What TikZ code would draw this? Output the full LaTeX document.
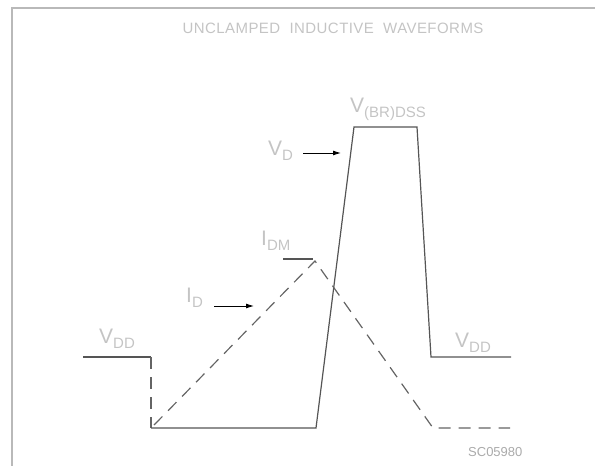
\documentclass[tikz,border=0pt]{standalone}
\usepackage{fontspec}
\setmainfont{Liberation Sans}
\newfontfamily\titlefont[LetterSpace=3]{Liberation Sans}
\usetikzlibrary{arrows.meta}
\definecolor{txtgray}{RGB}{196,196,196}
\definecolor{codegray}{RGB}{170,170,170}
\definecolor{wavegray}{RGB}{85,85,85}
\definecolor{dashgray}{RGB}{100,100,100}
\definecolor{framegray}{RGB}{185,185,185}
\newcommand{\mainlbl}[2]{{\fontsize{21}{21}\selectfont #1}\raisebox{-5pt}{\fontsize{15}{15}\selectfont #2}}
\tikzset{
  lbl/.style={text=txtgray, inner sep=0pt, anchor=base west},
  wave/.style={draw=wavegray, line width=1.2pt, line join=miter},
  dashwave/.style={draw=dashgray, line width=1.2pt, dash pattern=on 12pt off 8pt},
  pointer/.style={draw=black, line width=0.9pt, -{Latex[length=8pt,width=5pt]}},
  framel/.style={draw=framegray, line width=2pt}
}
\begin{document}
\begin{tikzpicture}[x=1pt,y=-1pt]
\useasboundingbox (0,0) rectangle (595,466);
% frame
\coordinate (fbl) at (12,466);
\coordinate (ftl) at (12,8.3);
\coordinate (ftr) at (595,8.3);
\draw[framel] (fbl) -- (ftl) -- (ftr);
% title
\node[text=txtgray, inner sep=0pt, font=\titlefont\fontsize{15}{15}\selectfont] (title) at (333,28.5) {UNCLAMPED\ \ INDUCTIVE\ \ WAVEFORMS};
% waveform corners
\coordinate (vddL) at (83,357);
\coordinate (stepTop) at (151,357);
\coordinate (stepBot) at (151,428);
\coordinate (riseBot) at (316,428);
\coordinate (plTL) at (354,127);
\coordinate (plTR) at (417,127);
\coordinate (fallBot) at (431,357);
\coordinate (vddR) at (511,357);
\coordinate (idStart) at (154,425);
\coordinate (idPeak) at (315,261);
\coordinate (idZero) at (433,428);
\coordinate (idEnd) at (510,428);
\coordinate (idmA) at (283,259);
\coordinate (idmB) at (313,259);
% V_D waveform
\draw[wave] (vddL) -- (stepTop);
\draw[dashwave] (stepTop) -- (stepBot);
\draw[wave] (stepBot) -- (riseBot) -- (plTL) -- (plTR) -- (fallBot) -- (vddR);
% I_D waveform
\draw[dashwave] (idStart) -- (idPeak) -- (idZero) -- (idEnd);
\draw[wave] (idmA) -- (idmB);
% labels
\node[lbl] (vddLeft) at (99,343) {\mainlbl{V}{DD}};
\node[lbl] (vddRight) at (455,347) {\mainlbl{V}{DD}};
\node[lbl] (vbr) at (350,112) {\mainlbl{V}{(BR)DSS}};
\node[lbl] (vd) at (268,155) {\mainlbl{V}{D}};
\node[lbl] (id) at (186,302) {\mainlbl{I}{D}};
\node[lbl] (idm) at (261,245) {\mainlbl{I}{DM}};
\node[text=codegray, inner sep=0pt, anchor=base west, font=\fontsize{13}{13}\selectfont] (code) at (468,456) {SC05980};
% pointers
\coordinate (vdA) at (303,153);
\coordinate (vdB) at (341,153);
\coordinate (idA) at (214,306);
\coordinate (idB) at (254,306);
\draw[pointer] (vdA) -- (vdB);
\draw[pointer] (idA) -- (idB);
\end{tikzpicture}
\end{document}
